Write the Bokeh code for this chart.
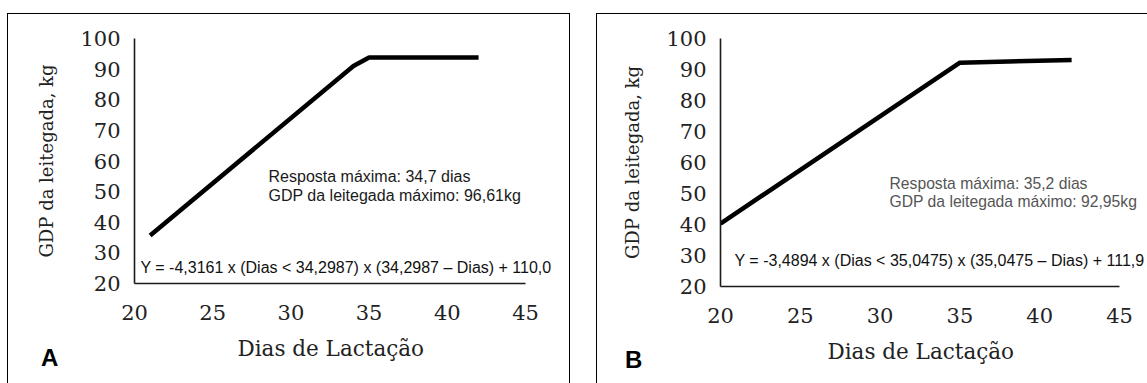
from bokeh.plotting import figure
from bokeh.layouts import row
from bokeh.models import Range1d, SingleIntervalTicker, Label, InlineStyleSheet, Div, Title
from bokeh.embed import file_html
from bokeh.resources import INLINE

# ---- data ----
a_days = [21, 34, 35, 42]
a_gdp = [35.7, 91.0, 93.8, 93.8]
b_days = [20, 35, 42]
b_gdp = [40.3, 92.2, 93.1]

x_title = "Dias de Lactação"
y_title = "GDP da leitegada, kg"
a_notes = ["Resposta máxima: 34,7 dias", "GDP da leitegada máximo: 96,61kg"]
a_eq = "Y = -4,3161 x (Dias < 34,2987) x (34,2987 – Dias) + 110,0"
b_notes = ["Resposta máxima: 35,2 dias", "GDP da leitegada máximo: 92,95kg"]
b_eq = "Y = -3,4894 x (Dias < 35,0475) x (35,0475 – Dias) + 111,9"
x_bounds = (20, 45)
y_bounds = (20, 100)

SERIF = "DejaVu Serif"
SANS = "Liberation Sans"


def make_panel(days, gdp, notes, eq, note_color, g):
    l, t, w, h, extra = g["box"]
    css = (":host::after { content: ''; position: absolute; "
           f"left: {l}px; top: {t}px; width: {w}px; height: {h}px; "
           f"border: 1px solid #000; border-bottom: none; {extra} "
           "pointer-events: none; box-sizing: border-box; z-index: 5; }")
    p = figure(output_backend="svg", toolbar_location=None,
               frame_width=g["fw"], frame_height=g["fh"],
               min_border_left=g["bl"], min_border_right=g["br"],
               min_border_top=g["bt"], min_border_bottom=g["bb"],
               x_range=Range1d(x_bounds[0], g["xmax"]), y_range=Range1d(*y_bounds),
               stylesheets=[InlineStyleSheet(css=css)])
    p.outline_line_color = None
    p.background_fill_color = "white"
    p.border_fill_color = "white"
    p.xgrid.visible = False
    p.ygrid.visible = False

    p.xaxis.ticker = SingleIntervalTicker(interval=5)
    p.yaxis.ticker = SingleIntervalTicker(interval=10)
    p.xaxis.bounds = x_bounds
    p.yaxis.bounds = y_bounds
    for ax in (p.xaxis, p.yaxis):
        ax.axis_line_color = "#1a1a1a"
        ax.axis_line_width = 1.6
        ax.major_tick_line_color = None
        ax.minor_tick_line_color = None
        ax.major_tick_out = 0
        ax.major_tick_in = 0
        ax.major_label_text_font = SERIF
        ax.major_label_text_font_size = "21px"
        ax.major_label_text_color = "#222222"
        ax.axis_label_text_font = SERIF
        ax.axis_label_text_font_style = "normal"
        ax.axis_label_text_color = "#222222"
    p.yaxis.axis_label = y_title
    p.yaxis.axis_label_text_font_size = "18px"
    p.xaxis.major_label_standoff = 17
    p.yaxis.major_label_standoff = 10
    p.yaxis.axis_label_standoff = 20

    # x-axis title, placed under the 20..45 span of the (wider) frame
    p.add_layout(Title(text=x_title, align="left", offset=g["xt_off"], standoff=23,
                       text_font=SERIF, text_font_size="21.5px", text_font_style="normal",
                       text_color="#222222"), "below")

    p.line(days, gdp, line_color="black", line_width=4.5, line_cap="butt", line_join="round")

    for txt, yy in zip(notes, g["note_y"]):
        p.add_layout(Label(x=g["note_x"], y=yy, text=txt, text_font=SANS,
                           text_font_size=g["note_fs"], text_color=note_color,
                           text_baseline="middle", text_align="left"))
    p.add_layout(Label(x=g["eq_x"], y=g["eq_y"], text=eq, text_font=SANS,
                       text_font_size="16px", text_color="#111111",
                       text_baseline="middle", text_align="left"))
    return p


def letter_div(letter, left, top):
    return Div(text=letter, width=24, height=26,
               styles={"position": "absolute", "left": f"{left}px", "top": f"{top}px",
                       "font-family": "'Liberation Sans', Arial, sans-serif",
                       "font-size": "24px", "font-weight": "bold", "line-height": "24px",
                       "color": "black", "z-index": "6"})


# frame spans 20..xmax days; the axis itself is bounded to 20..45
geom_a = dict(fw=441, fh=245, bl=134, br=7, bt=38, bb=100, xmax=20 + 441 / 15.64,
              xt_off=103,
              note_x=28.57, note_y=[55.0, 48.8], note_fs="16px",
              eq_x=20.38, eq_y=25.2,
              box=(7, 13, 563, 370, ""))
geom_b = dict(fw=427, fh=248, bl=138, br=0, bt=38, bb=97, xmax=20 + 427 / 15.96,
              xt_off=107,
              note_x=30.59, note_y=[53.2, 47.4], note_fs="15.7px",
              eq_x=20.88, eq_y=28.4,
              box=(14, 13, 551, 370, "border-right: none;"))

pa = make_panel(a_days, a_gdp, a_notes, a_eq, "#1a1a1a", geom_a)
pb = make_panel(b_days, b_gdp, b_notes, b_eq, "#555555", geom_b)

layout = row(pa, pb, letter_div("A", 36, 341), letter_div("B", 620, 343))
open("out.html", "w").write(file_html(layout, INLINE))
